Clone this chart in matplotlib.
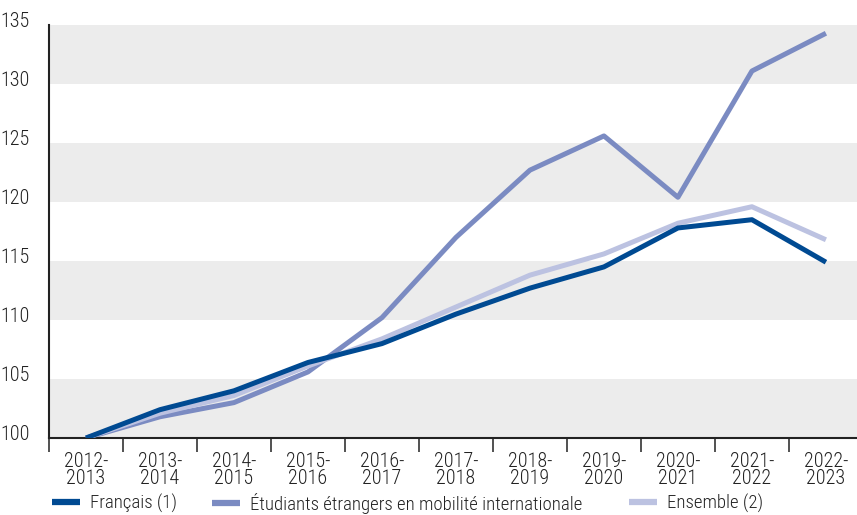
import matplotlib
matplotlib.use("Agg")
import matplotlib.pyplot as plt
import matplotlib.transforms as mtransforms
from matplotlib.lines import Line2D

years = ["2012-\n2013", "2013-\n2014", "2014-\n2015", "2015-\n2016", "2016-\n2017",
         "2017-\n2018", "2018-\n2019", "2019-\n2020", "2020-\n2021", "2021-\n2022",
         "2022-\n2023"]
francais = [100, 102.4, 104.0, 106.4, 108.0, 110.5, 112.7, 114.5, 117.8, 118.5, 114.9]
etrangers = [100, 101.8, 103.0, 105.6, 110.2, 117.0, 122.7, 125.6, 120.4, 131.1, 134.3]
ensemble = [100, 102.1, 103.6, 106.1, 108.4, 111.1, 113.8, 115.6, 118.2, 119.6, 116.8]
yticks = [100, 105, 110, 115, 120, 125, 130, 135]

c_fr = "#004a92"
c_et = "#7b8bc2"
c_en = "#bcc2e1"

plt.rcParams['font.family'] = ['Roboto Condensed', 'DejaVu Sans']
plt.rcParams['font.weight'] = 'light'
fs = 14.5
fs_leg = 13.5

fig = plt.figure(figsize=(8.57, 5.15), dpi=100)
ax = fig.add_axes([49/857, 77/515, 808/857, 413/515])

for lo in [100, 110, 120, 130]:
    ax.axhspan(lo, lo + 5, color="#ececec", lw=0, zorder=0)

x = list(range(len(years)))
ax.plot(x, francais, color=c_fr, lw=3.6, zorder=4, solid_capstyle='butt')
ax.plot(x, etrangers, color=c_et, lw=3.6, zorder=2, solid_capstyle='butt')
ax.plot(x, ensemble, color=c_en, lw=3.6, zorder=3, solid_capstyle='butt')

ax.set_xlim(-0.5, 10.42)
ax.set_ylim(100, 135)

ax.set_yticks(yticks)
ax.set_yticklabels([str(v) for v in yticks], fontsize=fs, color="#222222")
ax.tick_params(axis='y', length=0, pad=14)
off = mtransforms.ScaledTranslation(0, 4/72, fig.dpi_scale_trans)
for lbl in ax.get_yticklabels():
    lbl.set_transform(lbl.get_transform() + off)

ax.set_xticks(x)
ax.set_xticklabels(years, fontsize=fs, color="#222222", linespacing=0.85)
ax.tick_params(axis='x', which='major', length=0, pad=10)
ax.set_xticks([i - 0.5 for i in range(len(years))], minor=True)
ax.tick_params(axis='x', which='minor', length=10, width=1.2, color="#333333")

for s in ['top', 'right']:
    ax.spines[s].set_visible(False)
for s in ['left', 'bottom']:
    ax.spines[s].set_color("#222222")
    ax.spines[s].set_linewidth(1.5)

entries = [(c_fr, "Français (1)", 52),
           (c_et, "Étudiants étrangers en mobilité internationale", 212),
           (c_en, "Ensemble (2)", 629)]
for col, lab, px in entries:
    h = Line2D([], [], color=col, lw=4.5, solid_capstyle='butt')
    fig.legend([h], [lab], loc='center left', bbox_to_anchor=(px/857, 12/515),
               frameon=False, fontsize=fs_leg, handlelength=1.5, handletextpad=0.55,
               borderaxespad=0, borderpad=0, labelcolor="#222222")

fig.savefig("out.png", dpi=100)
